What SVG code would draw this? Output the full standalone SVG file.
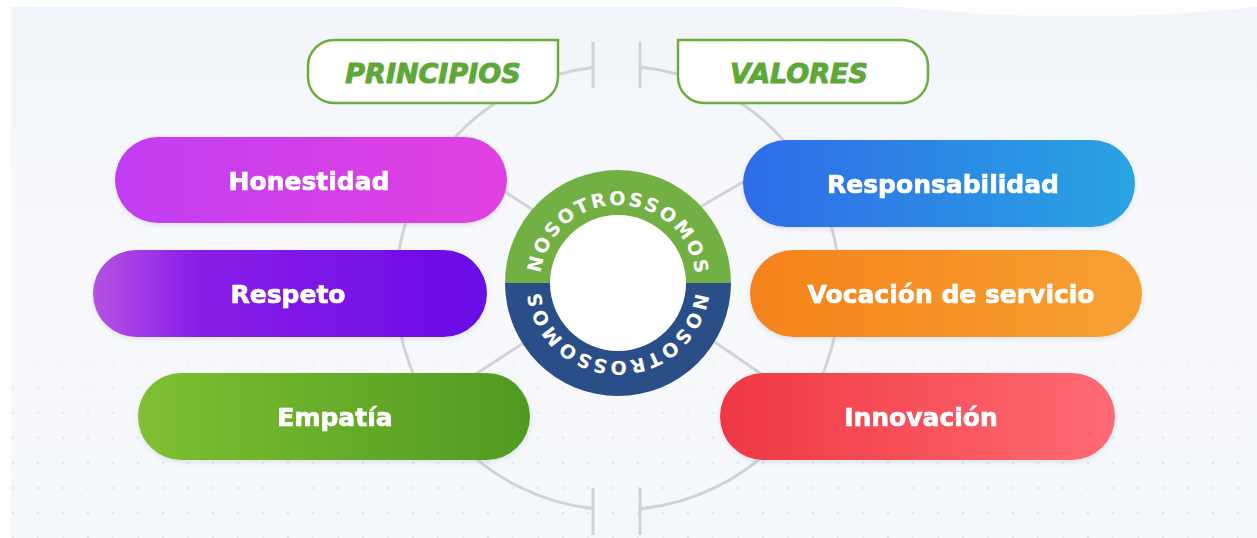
<svg xmlns="http://www.w3.org/2000/svg" width="1257" height="538" viewBox="0 0 1257 538">
  <defs>
    <style>
      .lbl { font-family: "DejaVu Sans", "Liberation Sans", sans-serif; font-weight: bold; font-size: 25px; fill: #ffffff; stroke: #ffffff; stroke-width: 0.7px; text-anchor: middle; }
      .hdr { font-family: "DejaVu Sans", "Liberation Sans", sans-serif; font-weight: bold; font-style: italic; font-size: 27px; fill: #5ea83a; stroke: #5ea83a; stroke-width: 1px; text-anchor: middle; }
      .hbox { fill: #ffffff; stroke: #69ad3d; stroke-width: 2.5; }
      .conn { fill: none; stroke: #d2d3d6; stroke-width: 3; stroke-linecap: butt; }
      .ring { font-family: "DejaVu Sans", "Liberation Sans", sans-serif; font-weight: bold; font-size: 19px; fill: #ffffff; letter-spacing: 2.4px; text-anchor: middle; }
    </style>
    <linearGradient id="gHon" x1="0" y1="0" x2="1" y2="0">
      <stop offset="0" stop-color="#c13ef1"/>
      <stop offset="1" stop-color="#e240e0"/>
    </linearGradient>
    <linearGradient id="gRes" x1="0" y1="0" x2="1" y2="0">
      <stop offset="0" stop-color="#b552e0"/>
      <stop offset="0.25" stop-color="#8a20e8"/>
      <stop offset="1" stop-color="#6a0ae6"/>
    </linearGradient>
    <linearGradient id="gEmp" x1="0" y1="0" x2="1" y2="0">
      <stop offset="0" stop-color="#7fc031"/>
      <stop offset="1" stop-color="#4f9a22"/>
    </linearGradient>
    <linearGradient id="gRsp" x1="0" y1="0" x2="1" y2="0">
      <stop offset="0" stop-color="#2f6be8"/>
      <stop offset="1" stop-color="#2aa4e2"/>
    </linearGradient>
    <linearGradient id="gVoc" x1="0" y1="0" x2="1" y2="0">
      <stop offset="0" stop-color="#f5821a"/>
      <stop offset="1" stop-color="#f7a134"/>
    </linearGradient>
    <linearGradient id="gInn" x1="0" y1="0" x2="1" y2="0">
      <stop offset="0" stop-color="#ef3843"/>
      <stop offset="1" stop-color="#ff6b73"/>
    </linearGradient>
    <linearGradient id="bgGrad" x1="0" y1="0" x2="0" y2="1">
      <stop offset="0" stop-color="#f1f5fa"/>
      <stop offset="0.5" stop-color="#f8f9fc"/>
      <stop offset="1" stop-color="#f4f7fb"/>
    </linearGradient>
    <linearGradient id="fade" x1="0" y1="0" x2="0" y2="1">
      <stop offset="0.58" stop-color="#000"/>
      <stop offset="0.85" stop-color="#fff"/>
    </linearGradient>
    <mask id="dotMask" maskUnits="userSpaceOnUse" x="0" y="0" width="1257" height="538">
      <rect x="0" y="0" width="1257" height="538" fill="url(#fade)"/>
    </mask>
    <pattern id="dots" x="13" y="13" width="25" height="25" patternUnits="userSpaceOnUse">
      <circle cx="0" cy="0" r="1.3" fill="#e0e5ec"/>
      <circle cx="25" cy="0" r="1.3" fill="#e0e5ec"/>
      <circle cx="0" cy="25" r="1.3" fill="#e0e5ec"/>
      <circle cx="25" cy="25" r="1.3" fill="#e0e5ec"/>
    </pattern>
    <filter id="sh" x="-10%" y="-20%" width="120%" height="150%">
      <feDropShadow dx="0" dy="2" stdDeviation="2.5" flood-color="#8090a8" flood-opacity="0.22"/>
    </filter>
    <path id="ringPath" d="M 696,283 A 78 78 0 1 1 540,283 A 78 78 0 1 1 696,283"/>
  </defs>

  <!-- background -->
  <rect x="0" y="0" width="1257" height="538" fill="#ffffff"/>
  <rect x="11" y="7" width="1246" height="531" fill="url(#bgGrad)"/>
  <path d="M 900,7 Q 1080,26 1257,7 Z" fill="#ffffff" opacity="0.8"/>
  <rect x="11" y="7" width="1246" height="531" fill="url(#dots)" mask="url(#dotMask)"/>

  <g id="connectors">
    <path class="conn" d="M 593,67.4 A 222 222 0 0 0 593,508.6"/>
    <path class="conn" d="M 640,67.1 A 222 222 0 0 1 640,508.9"/>
    <line class="conn" x1="593" y1="42" x2="593" y2="88"/>
    <line class="conn" x1="640" y1="42" x2="640" y2="88"/>
    <line class="conn" x1="593" y1="488" x2="593" y2="535"/>
    <line class="conn" x1="640" y1="488" x2="640" y2="535"/>
    <line class="conn" x1="490" y1="182" x2="550" y2="221"/>
    <line class="conn" x1="688" y1="214" x2="762" y2="171"/>
    <line class="conn" x1="468" y1="379" x2="545" y2="329"/>
    <line class="conn" x1="700" y1="332" x2="767" y2="378"/>
  </g>

  <g id="principios">
    <path class="hbox" d="M 334,40 H 558 V 77 A 26 26 0 0 1 532,103 H 334 A 26 26 0 0 1 308,77 V 66 A 26 26 0 0 1 334,40 Z"/>
    <text class="hdr" x="433" y="83">PRINCIPIOS</text>
  </g>
  <g id="valores">
    <path class="hbox" d="M 678,40 H 902 A 26 26 0 0 1 928,66 V 77 A 26 26 0 0 1 902,103 H 704 A 26 26 0 0 1 678,77 Z"/>
    <text class="hdr" x="799" y="83">VALORES</text>
  </g>

  <g id="honestidad" filter="url(#sh)">
    <rect x="115" y="137" width="392" height="86" rx="43" fill="url(#gHon)"/>
    <text class="lbl" x="309" y="190">Honestidad</text>
  </g>
  <g id="respeto" filter="url(#sh)">
    <rect x="93" y="250" width="394" height="87" rx="43.5" fill="url(#gRes)"/>
    <text class="lbl" x="288" y="303">Respeto</text>
  </g>
  <g id="empatia" filter="url(#sh)">
    <rect x="138" y="373" width="392" height="87" rx="43.5" fill="url(#gEmp)"/>
    <text class="lbl" x="335" y="426">Empatía</text>
  </g>
  <g id="responsabilidad" filter="url(#sh)">
    <rect x="743" y="140" width="392" height="87" rx="43.5" fill="url(#gRsp)"/>
    <text class="lbl" x="943" y="193">Responsabilidad</text>
  </g>
  <g id="vocacion" filter="url(#sh)">
    <rect x="750" y="250" width="392" height="87" rx="43.5" fill="url(#gVoc)"/>
    <text class="lbl" x="951" y="303">Vocación de servicio</text>
  </g>
  <g id="innovacion" filter="url(#sh)">
    <rect x="720" y="373" width="395" height="87" rx="43.5" fill="url(#gInn)"/>
    <text class="lbl" x="921" y="426">Innovación</text>
  </g>

  <g id="nosotros-somos">
    <path d="M 505,283 A 113 113 0 0 1 731,283 Z" fill="#72b043"/>
    <path d="M 505,283 A 113 113 0 0 0 731,283 Z" fill="#2a4f88"/>
    <circle cx="618" cy="283" r="68" fill="#ffffff"/>
    <text class="ring"><textPath href="#ringPath" startOffset="75.3%">NOSOTROSSOMOS</textPath></text>
    <text class="ring"><textPath href="#ringPath" startOffset="25.3%">NOSOTROSSOMOS</textPath></text>
  </g>
</svg>
